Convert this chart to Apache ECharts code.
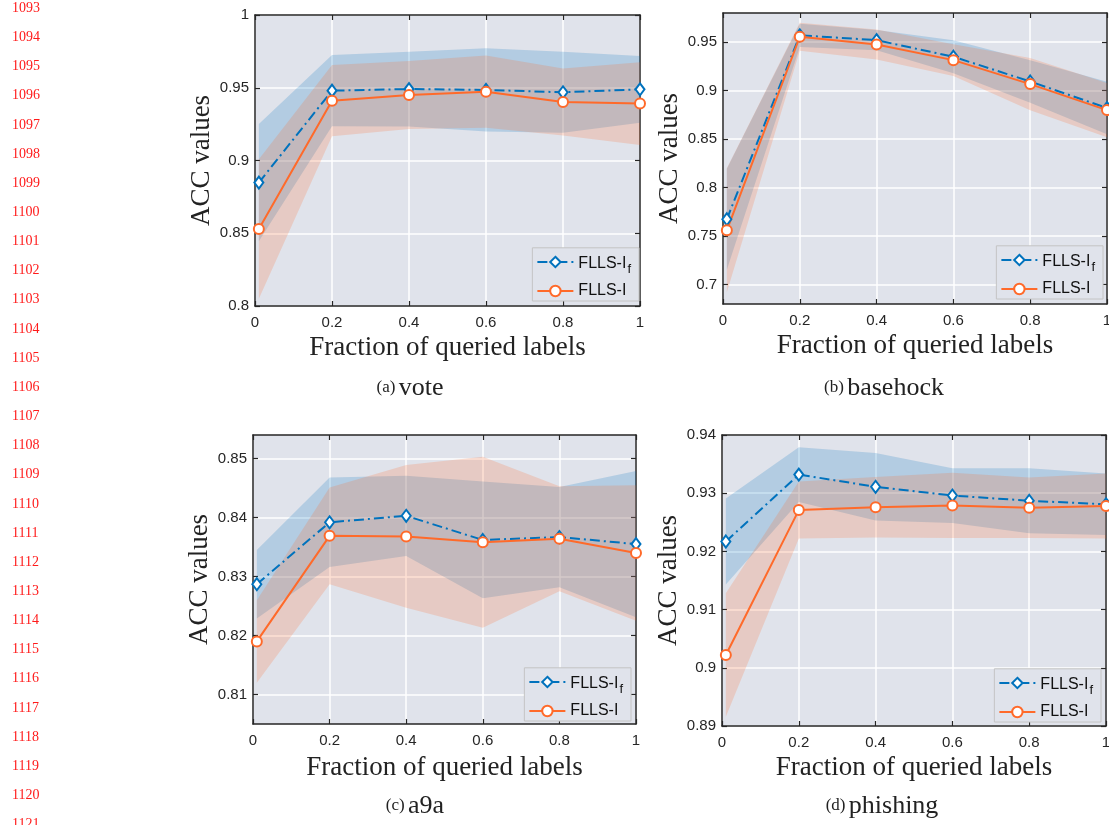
<!DOCTYPE html>
<html><head><meta charset="utf-8">
<script src="https://cdn.jsdelivr.net/npm/echarts@6/dist/echarts.min.js"></script>
<style>html,body{margin:0;padding:0;background:#fff}#c{width:1109px;height:825px}</style>
</head><body><div id="c"></div>
<script>
// ---------- data ----------
const xFractions = [0.01, 0.2, 0.4, 0.6, 0.8, 1];
const xTicks = [0, 0.2, 0.4, 0.6, 0.8, 1];
const seriesNames = ['FLLS-If', 'FLLS-I'];

// (a) vote
const voteIfMean = [0.8848, 0.9480, 0.9491, 0.9485, 0.9469, 0.9489];
const voteIfStd  = [0.0403, 0.0245, 0.0257, 0.0286, 0.0279, 0.0229];
const voteIMean  = [0.8529, 0.9411, 0.9450, 0.9473, 0.9402, 0.9391];
const voteIStd   = [0.0480, 0.0245, 0.0234, 0.0248, 0.0231, 0.0284];
const voteYTicks = [0.8, 0.85, 0.9, 0.95, 1];

// (b) basehock
const baseIfMean = [0.7674, 0.9570, 0.9520, 0.9349, 0.9094, 0.8820];
const baseIfStd  = [0.0520, 0.0120, 0.0104, 0.0171, 0.0220, 0.0270];
const baseIMean  = [0.7560, 0.9555, 0.9476, 0.9314, 0.9067, 0.8799];
const baseIStd   = [0.0640, 0.0145, 0.0155, 0.0164, 0.0270, 0.0280];
const baseYTicks = [0.7, 0.75, 0.8, 0.85, 0.9, 0.95];

// (c) a9a
const a9aIfMean = [0.8287, 0.8392, 0.8403, 0.8362, 0.8367, 0.8355];
const a9aIfStd  = [0.0058, 0.0076, 0.0068, 0.0099, 0.0085, 0.0124];
const a9aIMean  = [0.8190, 0.8369, 0.8368, 0.8358, 0.8364, 0.8340];
const a9aIStd   = [0.0070, 0.0082, 0.0121, 0.0145, 0.0089, 0.0115];
const a9aYTicks = [0.81, 0.82, 0.83, 0.84, 0.85];

// (d) phishing
const phisIfMean = [0.9217, 0.9332, 0.9311, 0.9296, 0.9287, 0.9281];
const phisIfStd  = [0.0074, 0.0047, 0.0058, 0.0047, 0.0056, 0.0053];
const phisIMean  = [0.9022, 0.9271, 0.9276, 0.9279, 0.9275, 0.9278];
const phisIStd   = [0.0106, 0.0049, 0.0052, 0.0056, 0.0052, 0.0056];
const phisYTicks = [0.89, 0.9, 0.91, 0.92, 0.93, 0.94];

const captionTags = ['(a)', '(b)', '(c)', '(d)'];
const captionNames = ['vote', 'basehock', 'a9a', 'phishing'];
const xAxisTitle = 'Fraction of queried labels';
const yAxisTitle = 'ACC values';

// ---------- layout / style ----------
const BLUE = '#0072BD', ORANGE = '#FF6A2A', BG = '#e0e3eb', AX = '#262626';
const panels = [
  {grid:{left:255, top:15, width:385, height:291}, yMin:0.8, yMax:1, ticks:voteYTicks,
   ifM:voteIfMean, ifS:voteIfStd, iM:voteIMean, iS:voteIStd,
   legend:{right:470, bottom:524}, cap:{x:410, y:388}, xGap:28},
  {grid:{left:723, top:13, width:384, height:291}, yMin:0.68, yMax:0.98, ticks:baseYTicks,
   ifM:baseIfMean, ifS:baseIfStd, iM:baseIMean, iS:baseIStd,
   legend:{right:6, bottom:526}, cap:{x:884, y:388}, xGap:28},
  {grid:{left:253, top:435, width:383, height:289}, yMin:0.805, yMax:0.854, ticks:a9aYTicks,
   ifM:a9aIfMean, ifS:a9aIfStd, iM:a9aIMean, iS:a9aIStd,
   legend:{right:478, bottom:104}, cap:{x:415, y:806}, xGap:30},
  {grid:{left:722, top:435, width:384, height:291}, yMin:0.89, yMax:0.94, ticks:phisYTicks,
   ifM:phisIfMean, ifS:phisIfStd, iM:phisIMean, iS:phisIStd,
   legend:{right:8, bottom:103}, cap:{x:882, y:806}, xGap:28}
];

const grids = [], xAxes = [], yAxes = [], series = [], legends = [], graphics = [];

function band(gi, mean, std, color, name) {
  return {
    type: 'custom', name: name, xAxisIndex: 2*gi, yAxisIndex: 2*gi, z: 1, silent: true,
    data: xFractions.map((x, k) => [x, mean[k] - std[k], mean[k] + std[k]]),
    encode: {x: 0, y: [1, 2]},
    renderItem: function (params, api) {
      if (params.dataIndex !== 0) return null;
      const pts = [];
      for (let k = 0; k < xFractions.length; k++) pts.push(api.coord([xFractions[k], mean[k] + std[k]]));
      for (let k = xFractions.length - 1; k >= 0; k--) pts.push(api.coord([xFractions[k], mean[k] - std[k]]));
      return {type: 'polygon', shape: {points: pts}, style: {fill: color, opacity: 0.2}};
    }
  };
}

panels.forEach((p, i) => {
  grids.push(Object.assign({show: true, backgroundColor: BG, borderWidth: 0, containLabel: false, outerBoundsMode: 'none'}, p.grid));
  const axisLine = {show: true, onZero: false, lineStyle: {color: AX, width: 1.5}};
  const tickStyle = {show: true, inside: true, length: 5, lineStyle: {color: AX, width: 1.2}};
  xAxes.push({
    type: 'value', gridIndex: i, position: 'bottom', min: 0, max: 1,
    axisLine: axisLine, axisTick: Object.assign({customValues: xTicks}, tickStyle),
    axisLabel: {customValues: xTicks, color: AX, fontFamily: 'Liberation Sans', fontSize: 15, margin: 9,
                showMinLabel: true, showMaxLabel: true, hideOverlap: false},
    splitLine: {show: true, lineStyle: {color: '#ffffff', width: 1.5}},
    name: xAxisTitle, nameLocation: 'middle', nameGap: p.xGap,
    nameTextStyle: {fontFamily: 'Liberation Serif', fontSize: 27, color: '#222'}
  });
  xAxes.push({
    type: 'value', gridIndex: i, position: 'top', min: 0, max: 1,
    axisLine: axisLine, axisTick: Object.assign({customValues: xTicks}, tickStyle),
    axisLabel: {show: false}, splitLine: {show: false}
  });
  yAxes.push({
    type: 'value', gridIndex: i, position: 'left', min: p.yMin, max: p.yMax,
    axisLine: axisLine, axisTick: Object.assign({customValues: p.ticks}, tickStyle),
    axisLabel: {customValues: p.ticks, color: AX, fontFamily: 'Liberation Sans', fontSize: 15, margin: 6,
                showMinLabel: true, showMaxLabel: true, hideOverlap: false},
    splitLine: {show: true, lineStyle: {color: '#ffffff', width: 1.5}},
    name: yAxisTitle, nameLocation: 'middle', nameGap: 39,
    nameTextStyle: {fontFamily: 'Liberation Serif', fontSize: 27, color: '#222'}
  });
  yAxes.push({
    type: 'value', gridIndex: i, position: 'right', min: p.yMin, max: p.yMax,
    axisLine: axisLine, axisTick: Object.assign({customValues: p.ticks}, tickStyle),
    axisLabel: {show: false}, splitLine: {show: false}
  });

  series.push(band(i, p.ifM, p.ifS, BLUE, 'band-If-' + i));
  series.push(band(i, p.iM, p.iS, ORANGE, 'band-I-' + i));
  series.push({
    type: 'line', name: seriesNames[0], xAxisIndex: 2*i, yAxisIndex: 2*i, z: 3,
    data: xFractions.map((x, k) => [x, p.ifM[k]]),
    symbol: 'diamond', symbolSize: [9, 12], showAllSymbol: true,
    itemStyle: {color: '#ffffff', borderColor: BLUE, borderWidth: 2},
    lineStyle: {color: BLUE, width: 2, type: [10, 4, 2, 4]},
    emphasis: {disabled: true}, animation: false
  });
  series.push({
    type: 'line', name: seriesNames[1], xAxisIndex: 2*i, yAxisIndex: 2*i, z: 3,
    data: xFractions.map((x, k) => [x, p.iM[k]]),
    symbol: 'circle', symbolSize: 10, showAllSymbol: true,
    itemStyle: {color: '#ffffff', borderColor: ORANGE, borderWidth: 2},
    lineStyle: {color: ORANGE, width: 2, type: 'solid'},
    emphasis: {disabled: true}, animation: false
  });

  legends.push(Object.assign({
    data: seriesNames, orient: 'vertical', selectedMode: false,
    backgroundColor: BG, borderColor: '#c4c4c4', borderWidth: 1, borderRadius: 0,
    padding: [8, 8, 2, 4], itemGap: 7, itemWidth: 36, itemHeight: 13,
    textStyle: {color: '#111', fontFamily: 'Liberation Sans', fontSize: 16,
      rich: {
        m: {fontFamily: 'Liberation Sans', fontSize: 16, color: '#111'},
        m1: {fontFamily: 'Liberation Sans', fontSize: 16, color: '#111', padding: [4, 0, 0, 0]},
        s: {fontFamily: 'Liberation Sans', fontSize: 13, color: '#111', padding: [15, 0, 0, 1]}
      }},
    formatter: function (name) {
      return name === 'FLLS-If' ? '{m1|FLLS-I}{s|f}' : '{m|FLLS-I}';
    }
  }, p.legend));

  graphics.push({
    type: 'text', x: p.cap.x, y: p.cap.y, z: 10,
    style: {
      text: '{p|' + captionTags[i] + '} {n|' + captionNames[i] + '}',
      align: 'center', verticalAlign: 'middle',
      rich: {
        p: {fontFamily: 'Liberation Serif', fontSize: 17, fill: '#222'},
        n: {fontFamily: 'Liberation Serif', fontSize: 26, fill: '#222'}
      }
    }
  });
});

// paper line numbers in the left margin
for (let k = 0; k <= 28; k++) {
  graphics.push({
    type: 'text', x: 12, y: 8.3 + k * 29.15, z: 10,
    style: {text: String(1093 + k), fill: '#ff1a1a', font: '14px "Liberation Serif"',
            align: 'left', verticalAlign: 'middle'}
  });
}

const chart = echarts.init(document.getElementById('c'), null, {renderer: 'canvas'});
chart.setOption({
  animation: false,
  backgroundColor: '#ffffff',
  grid: grids, xAxis: xAxes, yAxis: yAxes, series: series, legend: legends,
  graphic: {elements: graphics}
});
</script>
</body></html>
